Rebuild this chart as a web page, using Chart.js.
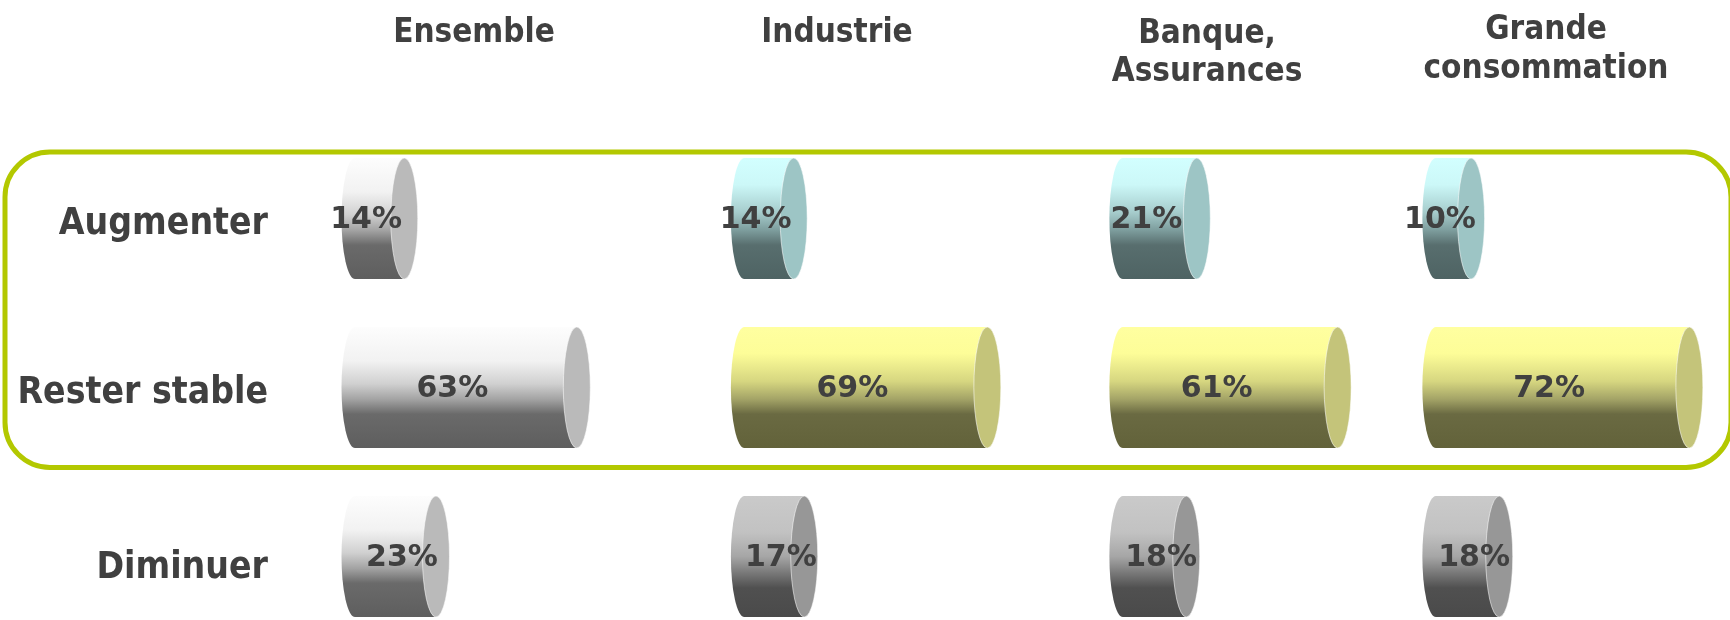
<!DOCTYPE html>
<html>
<head>
<meta charset="utf-8">
<script src="https://cdn.jsdelivr.net/npm/chart.js@4.4.1/dist/chart.umd.min.js"></script>
<style>
  html, body { margin: 0; padding: 0; background: #ffffff; }
  #wrap { position: relative; width: 1730px; height: 620px; }
</style>
</head>
<body>
<div id="wrap"><canvas id="c"></canvas></div>
<script>
// Answers per sector, in percent
const rows = ['Augmenter', 'Rester stable', 'Diminuer'];
const sectors = [['Ensemble'], ['Industrie'], ['Banque,', 'Assurances'], ['Grande', 'consommation']];
const ensemble = [14, 63, 23];
const industrie = [14, 69, 17];
const banque = [21, 61, 18];
const grande = [10, 72, 18];
const seriesValues = [ensemble, industrie, banque, grande];

// Each sector has its own value axis; the axes sit side by side (stacked horizontally)
const axisMax = [110.6, 107.5, 88.9, 80.7];

const TEXT = '#404040';
const CONDENSED = "'DejaVu Sans Condensed', 'DejaVu Sans', sans-serif";
const REGULAR = "'DejaVu Sans', sans-serif";

// Shaded cylinder palettes: vertical gradient for the body, flat colour for the end cap
const PAL = {
  white:  { stops: [[0, '#fdfdfd'], [0.28, '#f2f2f2'], [0.47, '#d0d0d0'], [0.6, '#a2a2a2'], [0.72, '#6a6a6a'], [1, '#5e5e5e']], cap: '#bababa' },
  cyan:   { stops: [[0, '#d2ffff'], [0.22, '#ccf8f8'], [0.45, '#a6cccc'], [0.6, '#7c9c9c'], [0.72, '#586e6e'], [1, '#4e6363']], cap: '#9dc5c5' },
  yellow: { stops: [[0, '#ffffa0'], [0.22, '#fdfd98'], [0.45, '#d6d680'], [0.6, '#a2a266'], [0.72, '#6a6a42'], [1, '#62623a']], cap: '#c4c47a' },
  gray:   { stops: [[0, '#cacaca'], [0.3, '#c2c2c2'], [0.5, '#a6a6a6'], [0.65, '#747474'], [0.76, '#505050'], [1, '#4a4a4a']], cap: '#979797' }
};
const cellStyle = [
  ['white', 'white', 'white'],
  ['cyan', 'yellow', 'gray'],
  ['cyan', 'yellow', 'gray'],
  ['cyan', 'yellow', 'gray']
];
const CAP_RX = 13.5;
const labelShift = [0, 0, 20];
const rowLabelDy = [6, 6, 12];
const headerX = [474, 837, 1207, 1546];
const headerBaseline = [[42], [42], [43, 81], [39, 78]];

function drawCylinder(ctx, x0, x1, yc, h, pal) {
  const top = yc - h / 2, bot = yc + h / 2, ry = h / 2, rx = CAP_RX;
  const g = ctx.createLinearGradient(0, top, 0, bot);
  pal.stops.forEach(([o, c]) => g.addColorStop(o, c));
  ctx.beginPath();
  ctx.moveTo(x1, top);
  ctx.lineTo(x0, top);
  ctx.ellipse(x0, yc, rx, ry, 0, -Math.PI / 2, Math.PI / 2, true);
  ctx.lineTo(x1, bot);
  ctx.closePath();
  ctx.fillStyle = g;
  ctx.fill();
  ctx.beginPath();
  ctx.ellipse(x1, yc, rx, ry, 0, 0, Math.PI * 2);
  ctx.fillStyle = pal.cap;
  ctx.fill();
  ctx.strokeStyle = 'rgba(255,255,255,0.55)';
  ctx.lineWidth = 1;
  ctx.stroke();
}

const cylinderPlugin = {
  id: 'cylinders',
  beforeDraw(chart) {
    const ctx = chart.ctx;
    ctx.save();
    ctx.beginPath();
    ctx.roundRect(5, 152, 1726, 315.5, 45);
    ctx.lineWidth = 5;
    ctx.strokeStyle = '#b3c800';
    ctx.stroke();
    ctx.restore();
  },
  afterDatasetsDraw(chart) {
    const ctx = chart.ctx;
    ctx.save();
    chart.data.datasets.forEach((ds, di) => {
      const meta = chart.getDatasetMeta(di);
      meta.data.forEach((el, ri) => {
        const { x, base, y, height } = el.getProps(['x', 'base', 'y', 'height'], true);
        drawCylinder(ctx, base, x, y, height, PAL[cellStyle[di][ri]]);
      });
    });
    ctx.font = 'bold 30px ' + REGULAR;
    ctx.fillStyle = TEXT;
    ctx.textAlign = 'center';
    ctx.textBaseline = 'alphabetic';
    chart.data.datasets.forEach((ds, di) => {
      const meta = chart.getDatasetMeta(di);
      meta.data.forEach((el, ri) => {
        const { x, base, y } = el.getProps(['x', 'base', 'y'], true);
        const cx = (base + x) / 2 - CAP_RX + labelShift[ri];
        ctx.fillText(ds.data[ri] + '%', cx, y + 9);
      });
    });
    ctx.restore();
  },
  afterDraw(chart) {
    const ctx = chart.ctx;
    ctx.save();
    ctx.fillStyle = TEXT;
    ctx.textBaseline = 'alphabetic';
    // column headings
    ctx.font = 'bold 33px ' + CONDENSED;
    ctx.textAlign = 'center';
    sectors.forEach((lines, i) => {
      lines.forEach((t, k) => ctx.fillText(t, headerX[i], headerBaseline[i][k]));
    });
    // row names, right-aligned against the category axis
    const yScale = chart.scales.y;
    ctx.font = 'bold 37px ' + CONDENSED;
    ctx.textAlign = 'right';
    ctx.textBaseline = 'middle';
    rows.forEach((r, i) => {
      ctx.fillText(r, yScale.right - 87, yScale.getPixelForTick(i) + rowLabelDy[i]);
    });
    ctx.restore();
  }
};

const scales = {
  y: {
    type: 'category',
    labels: rows,
    offset: false,
    grid: { display: false, drawTicks: false },
    border: { display: false },
    ticks: { display: false },
    afterFit(scale) {
      scale.width = 355;
      scale.paddingTop = 0;
      scale.paddingBottom = 0;
    }
  }
};
axisMax.forEach((m, i) => {
  scales['x' + i] = {
    type: 'linear', axis: 'x', position: 'bottom', display: false,
    min: 0, max: m, stack: 'sectors', stackWeight: m
  };
});

new Chart(document.getElementById('c'), {
  type: 'bar',
  data: {
    labels: rows,
    datasets: seriesValues.map((vals, i) => ({
      label: sectors[i].join(' '),
      data: vals,
      xAxisID: 'x' + i,
      yAxisID: 'y',
      backgroundColor: 'rgba(0,0,0,0)',
      borderWidth: 0,
      grouped: false,
      barThickness: 121
    }))
  },
  options: {
    indexAxis: 'y',
    responsive: true,
    maintainAspectRatio: false,
    animation: false,
    layout: { padding: { top: 218.5, bottom: 63.5, left: 0, right: 10 } },
    plugins: { legend: { display: false }, tooltip: { enabled: false } },
    scales
  },
  plugins: [cylinderPlugin]
});
</script>
</body>
</html>
